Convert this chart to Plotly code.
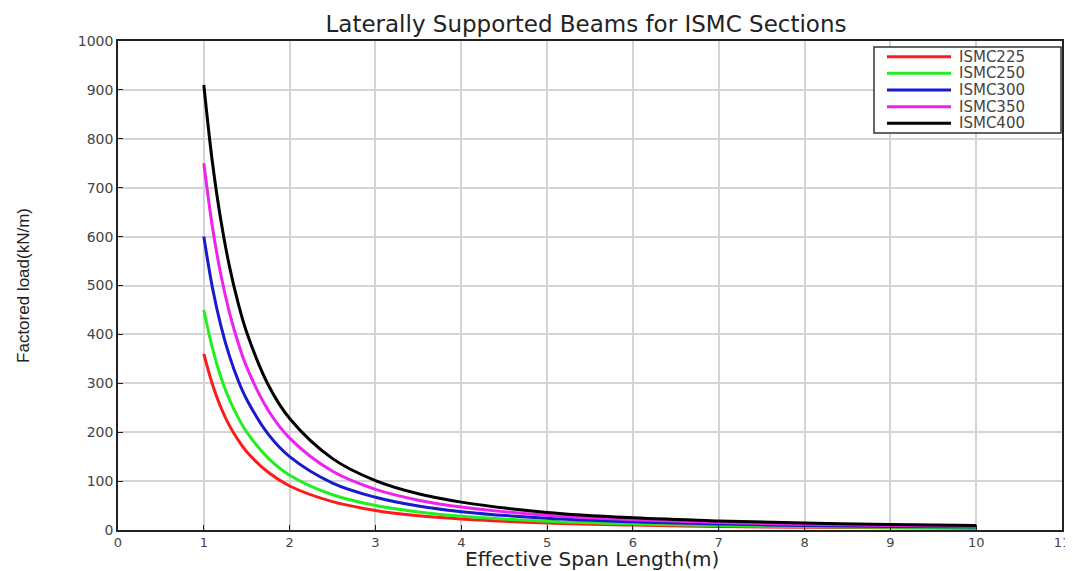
import plotly.graph_objects as go

span = [1, 1.1, 1.2, 1.3, 1.4, 1.5, 1.75, 2, 2.5, 3, 3.5, 4, 5, 6, 7, 8, 9, 10]

ismc225 = [360, 298, 250, 213, 184, 160, 118, 90, 58, 40, 29, 22.5, 14.4, 10, 7.3, 5.6, 4.4, 3.6]
ismc250 = [450, 372, 312, 266, 230, 200, 147, 112, 72, 50, 37, 28, 18, 12.5, 9.2, 7, 5.6, 4.5]
ismc300 = [600, 496, 417, 355, 306, 267, 196, 150, 96, 67, 49, 37.5, 24, 16.7, 12.2, 9.4, 7.4, 6]
ismc350 = [750, 620, 521, 444, 383, 333, 245, 188, 120, 83, 61, 47, 30, 21, 15.3, 11.7, 9.3, 7.5]
ismc400 = [910, 752, 632, 538, 464, 404, 297, 228, 146, 101, 74, 57, 36, 25, 18.6, 14.2, 11.2, 9.1]

names = ["ISMC225", "ISMC250", "ISMC300", "ISMC350", "ISMC400"]
series = [ismc225, ismc250, ismc300, ismc350, ismc400]
colors = ["#ff1a1a", "#22ee22", "#1a1acc", "#ee22ee", "#000000"]

x_ticks = list(range(0, 12))
y_ticks = list(range(0, 1001, 100))

# page offset (browser body margin) and plot area geometry in screen pixels
OFF = 8
PL, PR, PT, PB = 118, 1062, 41, 530
W, H = 1073 - OFF, 571 - OFF


def px(X):
    return (X - PL) / (PR - PL)


def py(Y):
    return (PB - Y) / (PB - PT)


fig = go.Figure()
for n, s, c in zip(names, series, colors):
    fig.add_trace(go.Scatter(x=span, y=s, name=n, mode="lines", showlegend=False,
                             line=dict(color=c, width=3, shape="spline", smoothing=1.0)))

# legend box drawn to match the reference's compact legend
shapes = [dict(type="rect", xref="paper", yref="paper",
               x0=px(874), x1=px(1061), y0=py(133), y1=py(47),
               line=dict(color="#333333", width=1.5), fillcolor="white", layer="above")]
annotations = []
for i, (n, c) in enumerate(zip(names, colors)):
    yy = 56.7 + i * 16.65
    shapes.append(dict(type="line", xref="paper", yref="paper",
                       x0=px(887), x1=px(951), y0=py(yy), y1=py(yy),
                       line=dict(color=c, width=3), layer="above"))
    annotations.append(dict(text=n, xref="paper", yref="paper", x=px(957), y=py(yy),
                            xanchor="left", yanchor="middle", showarrow=False,
                            font=dict(size=15, color="#444444")))

# x-axis title
annotations.append(dict(text="Effective Span Length(m)", xref="paper", yref="paper",
                        x=px(592), y=py(546), xanchor="center", yanchor="top",
                        showarrow=False, borderpad=0,
                        font=dict(size=20, color="#222222")))

fig.update_layout(
    width=W, height=H,
    margin=dict(l=PL - OFF, r=W - (PR - OFF), t=PT - OFF, b=H - (PB - OFF), autoexpand=False),
    paper_bgcolor="white", plot_bgcolor="white",
    font=dict(family="DejaVu Sans, Liberation Sans, sans-serif", color="#333333"),
    title=dict(text="Laterally Supported Beams for ISMC Sections", x=(586 - OFF) / W,
               xanchor="center", y=1 - (24 - OFF) / H, yanchor="middle",
               font=dict(size=23, color="#222222")),
    shapes=shapes,
    annotations=annotations,
    showlegend=False,
)
fig.update_xaxes(range=[0, 11], tickvals=x_ticks, showgrid=True, gridcolor="#d4d4d4",
                 gridwidth=1.5, showline=True, linecolor="#222222", linewidth=1.5, mirror=True,
                 ticks="inside", ticklen=5, tickcolor="#222222", zeroline=False,
                 automargin=False,
                 tickfont=dict(size=13, color="#444444"))
fig.update_yaxes(range=[0, 1000], tickvals=y_ticks, showgrid=True, gridcolor="#d4d4d4",
                 gridwidth=1.5, showline=True, linecolor="#222222", linewidth=1.5, mirror=True,
                 ticks="inside", ticklen=5, tickcolor="#222222", zeroline=False,
                 automargin=False,
                 tickfont=dict(size=14, color="#444444"),
                 title=dict(text="Factored load(kN/m)", standoff=44,
                            font=dict(size=17, color="#222222",
                                      family="Liberation Sans, Arial, sans-serif")))

fig.write_html("out.html")
